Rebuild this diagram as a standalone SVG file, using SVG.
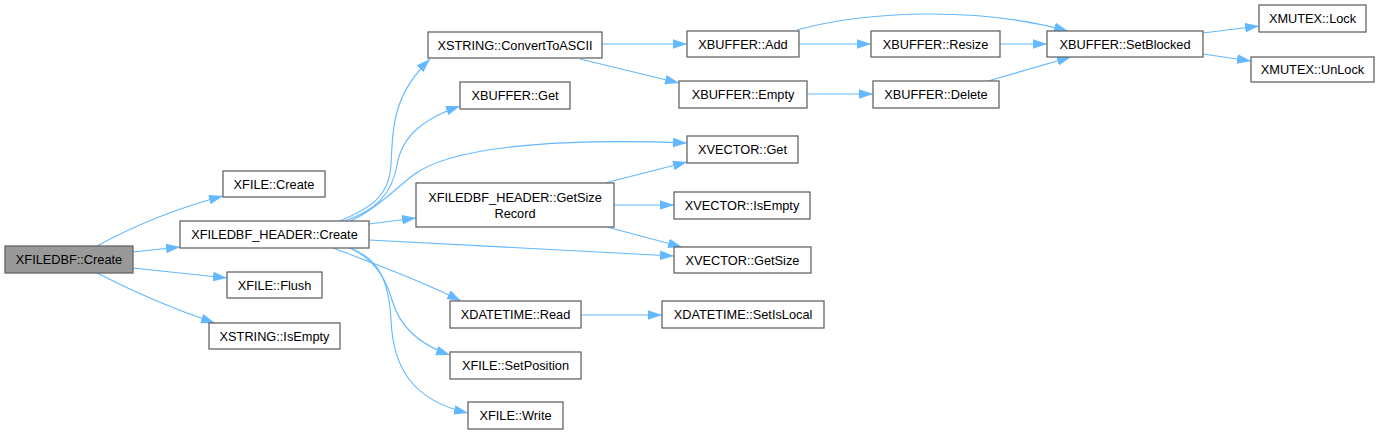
<svg xmlns="http://www.w3.org/2000/svg" width="1380" height="435" viewBox="0 0 1380 435">
<defs>
<style>
.n rect{fill:#ffffff;stroke:#666666;stroke-width:1.3}
.n.root rect{fill:#999999}
.n text{font-family:"Liberation Sans",Arial,sans-serif;font-size:12.75px;fill:#000000;text-anchor:middle}
.e path{fill:none;stroke:#63b8ff;stroke-width:1.1;marker-end:url(#a)}
</style>
<marker id="a" markerWidth="15" markerHeight="10" refX="14" refY="4.8" orient="auto" markerUnits="userSpaceOnUse">
<path d="M0,0 L14,4.8 L0,9.6 z" fill="#63b8ff"/>
</marker>
</defs>
<rect x="0" y="0" width="1380" height="435" fill="#ffffff"/>
<g id="connectors" class="e">
<path d="M97,246 C130,228 170,210 223,196"/>
<path d="M133,252 L180,247"/>
<path d="M133,268 L227,278"/>
<path d="M97,273 C130,290 170,308 215,323"/>
<path d="M340,221 C368,209 389,198 391,165 C393,125 393,95 430,59"/>
<path d="M345,221 C375,210 392,195 397,165 C402,135 425,118 460,106"/>
<path d="M350,221 C372,212 392,192 412,176 C450,146 560,138 687,143"/>
<path d="M369,224 L416,218"/>
<path d="M369,240 L674,256"/>
<path d="M333,248 C370,262 420,280 461,301"/>
<path d="M350,248 C372,258 385,275 392,300 C400,328 420,345 450,355"/>
<path d="M350,248 C378,258 389,280 391,320 C393,365 410,400 468,413"/>
<path d="M602,44 L687,44"/>
<path d="M580,59 L679,83"/>
<path d="M799,44 L871,44"/>
<path d="M797,30 C870,10 980,7 1068,31"/>
<path d="M1000,44 L1047,44"/>
<path d="M807,94 L873,94"/>
<path d="M988,81 L1071,57"/>
<path d="M1203,33 L1259,26"/>
<path d="M1203,54 L1251,61"/>
<path d="M605,183 L687,162"/>
<path d="M614,205 L674,205"/>
<path d="M607,227 L682,247"/>
<path d="M581,315 L662,315"/>
</g>
<g id="n_xfiledbf_create" class="n root"><rect x="5" y="246" width="128" height="27"/><text x="69" y="264">XFILEDBF::Create</text></g>
<g id="n_xfile_create" class="n"><rect x="223" y="171" width="102" height="26"/><text x="274" y="188.5">XFILE::Create</text></g>
<g id="n_header_create" class="n"><rect x="180" y="221" width="189" height="27"/><text x="274.5" y="239">XFILEDBF_HEADER::Create</text></g>
<g id="n_xfile_flush" class="n"><rect x="227" y="272" width="95" height="26"/><text x="274.5" y="289.5">XFILE::Flush</text></g>
<g id="n_xstring_isempty" class="n"><rect x="209" y="323" width="131" height="26"/><text x="274.5" y="340.5">XSTRING::IsEmpty</text></g>
<g id="n_convert" class="n"><rect x="428" y="32" width="174" height="26"/><text x="515" y="49.5">XSTRING::ConvertToASCII</text></g>
<g id="n_xbuffer_get" class="n"><rect x="460" y="82" width="110" height="27"/><text x="515" y="100">XBUFFER::Get</text></g>
<g id="n_xvector_get" class="n"><rect x="687" y="136" width="111" height="27"/><text x="742.5" y="154">XVECTOR::Get</text></g>
<g id="n_getsizerecord" class="n"><rect x="416" y="183" width="198" height="44"/><text x="515" y="202">XFILEDBF_HEADER::GetSize</text><text x="515" y="218">Record</text></g>
<g id="n_xvector_getsize" class="n"><rect x="674" y="247" width="137" height="26"/><text x="742.5" y="264.5">XVECTOR::GetSize</text></g>
<g id="n_xdatetime_read" class="n"><rect x="450" y="301" width="131" height="27"/><text x="515.5" y="319">XDATETIME::Read</text></g>
<g id="n_xfile_setposition" class="n"><rect x="450" y="352" width="131" height="27"/><text x="515.5" y="370">XFILE::SetPosition</text></g>
<g id="n_xfile_write" class="n"><rect x="468" y="402" width="95" height="27"/><text x="515.5" y="420">XFILE::Write</text></g>
<g id="n_xbuffer_add" class="n"><rect x="687" y="31" width="112" height="26"/><text x="743" y="48.5">XBUFFER::Add</text></g>
<g id="n_xbuffer_empty" class="n"><rect x="679" y="81" width="128" height="27"/><text x="743" y="99">XBUFFER::Empty</text></g>
<g id="n_xvector_isempty" class="n"><rect x="674" y="192" width="136" height="27"/><text x="742" y="210">XVECTOR::IsEmpty</text></g>
<g id="n_xdatetime_setislocal" class="n"><rect x="662" y="301" width="162" height="27"/><text x="743" y="319">XDATETIME::SetIsLocal</text></g>
<g id="n_xbuffer_resize" class="n"><rect x="871" y="31" width="129" height="26"/><text x="935.5" y="48.5">XBUFFER::Resize</text></g>
<g id="n_xbuffer_delete" class="n"><rect x="873" y="81" width="126" height="27"/><text x="936" y="99">XBUFFER::Delete</text></g>
<g id="n_xbuffer_setblocked" class="n"><rect x="1047" y="31" width="156" height="26"/><text x="1125" y="48.5">XBUFFER::SetBlocked</text></g>
<g id="n_xmutex_lock" class="n"><rect x="1259" y="5" width="107" height="27"/><text x="1312.5" y="23">XMUTEX::Lock</text></g>
<g id="n_xmutex_unlock" class="n"><rect x="1251" y="57" width="123" height="25"/><text x="1312.5" y="74">XMUTEX::UnLock</text></g>
</svg>
